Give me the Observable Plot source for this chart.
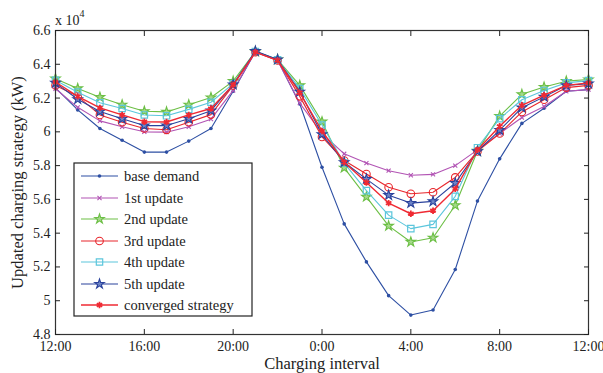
<!DOCTYPE html>
<html><head><meta charset="utf-8">
<script src="https://cdn.jsdelivr.net/npm/d3@7"></script>
<script src="https://cdn.jsdelivr.net/npm/@observablehq/plot@0.6"></script>
<style>
body{margin:0;background:#fff;}
#chart svg{display:block;}
</style></head><body><div id="chart"></div>
<script>
// hours after 12:00 (0 = 12:00, 12 = 0:00, 24 = next 12:00)
const hours = [0,1,2,3,4,5,6,7,8,9,10,11,12,13,14,15,16,17,18,19,20,21,22,23,24];
const tickHours = [0,4,8,12,16,20,24];
const tickLabels = ["12:00","16:00","20:00","0:00","4:00","8:00","12:00"];
const yTicks = [4.8,5,5.2,5.4,5.6,5.8,6,6.2,6.4,6.6];

// values in units of 10^4 kW
const baseDemand = [6.26,6.13,6.02,5.95,5.88,5.88,5.945,6.02,6.24,6.475,6.425,6.165,5.79,5.455,5.23,5.03,4.915,4.945,5.185,5.59,5.84,6.05,6.14,6.24,6.25];
const update1    = [6.255,6.145,6.065,6.03,6.0,5.998,6.03,6.075,6.245,6.475,6.423,6.17,5.99,5.87,5.815,5.77,5.743,5.748,5.8,5.893,5.99,6.085,6.15,6.24,6.25];
const update2    = [6.315,6.257,6.205,6.16,6.122,6.118,6.16,6.203,6.3,6.475,6.428,6.275,6.06,5.787,5.615,5.443,5.348,5.373,5.565,5.887,6.093,6.222,6.265,6.3,6.31];
const update3    = [6.275,6.21,6.1,6.057,6.02,6.012,6.057,6.102,6.275,6.472,6.423,6.21,5.97,5.83,5.75,5.672,5.633,5.642,5.73,5.884,5.99,6.118,6.19,6.262,6.275];
const update4    = [6.305,6.235,6.172,6.138,6.1,6.095,6.133,6.175,6.285,6.476,6.426,6.256,6.04,5.815,5.652,5.507,5.427,5.452,5.618,5.906,6.078,6.19,6.245,6.29,6.303];
const update5    = [6.29,6.193,6.12,6.077,6.037,6.037,6.077,6.125,6.28,6.478,6.428,6.237,5.985,5.82,5.72,5.625,5.578,5.588,5.697,5.884,6.01,6.143,6.207,6.275,6.285];
const converged  = [6.295,6.21,6.142,6.1,6.06,6.058,6.1,6.138,6.278,6.472,6.423,6.232,6.005,5.82,5.7,5.578,5.515,5.533,5.662,5.893,6.033,6.157,6.217,6.275,6.29];

const seriesNames   = ["base demand","1st update","2nd update","3rd update","4th update","5th update","converged strategy"];
const seriesValues  = [baseDemand,update1,update2,update3,update4,update5,converged];
const seriesColors  = ["#2d4fa3","#b254b4","#6cbf45","#e8262c","#5cc6dc","#2a429c","#ef2a33"];
const seriesSymbols = ["circle","times","star","circle","square","star","asterisk"];

const markStyle = [
  {r:1.8, fill:"currentColor", stroke:"none", sw:1.1, lw:1.1},
  {r:2.0, fill:"none", stroke:"currentColor", sw:1.1, lw:1.1},
  {r:3.0, fill:"#a6d98c", stroke:"currentColor", sw:1.1, lw:1.1},
  {r:3.8, fill:"none", stroke:"currentColor", sw:1.1, lw:1.1},
  {r:3.6, fill:"none", stroke:"currentColor", sw:1.2, lw:1.1},
  {r:3.0, fill:"#6f86c8", stroke:"currentColor", sw:1.1, lw:1.1},
  {r:3.0, fill:"none", stroke:"currentColor", sw:1.8, lw:1.4}
];

const marks = [];
seriesNames.forEach((name, s) => {
  const rows = hours.map((h, i) => ({hour: h, value: seriesValues[s][i]}));
  const st = markStyle[s];
  const c = seriesColors[s];
  marks.push(Plot.line(rows, {x: "hour", y: "value", stroke: c, strokeWidth: st.lw}));
  marks.push(Plot.dot(rows, {
    x: "hour", y: "value", symbol: () => seriesSymbols[s], r: st.r,
    fill: st.fill === "currentColor" ? c : st.fill,
    stroke: st.stroke === "currentColor" ? c : st.stroke,
    strokeWidth: st.sw
  }));
});

const fmtX = d => tickLabels[tickHours.indexOf(d)];
const serif = "'Liberation Serif','Times New Roman',serif";

const chart = Plot.plot({
  width: 603, height: 373,
  marginLeft: 55, marginRight: 15, marginTop: 30, marginBottom: 39,
  style: {fontFamily: serif, fontSize: "14px", color: "#222", background: "#fff", overflow: "visible"},
  x: {domain: [0, 24], label: null},
  y: {domain: [4.8, 6.6], label: null},
  symbol: {type: "identity"},
  marks: [
    ...marks,
    Plot.frame({stroke: "#333", strokeWidth: 1.2}),
    Plot.axisX(tickHours, {anchor: "bottom", tickSize: -5, tickPadding: 12, tickFormat: fmtX, label: null, fontSize: 14}),
    Plot.axisX(tickHours, {anchor: "top", tickSize: -5, tickFormat: () => "", label: null}),
    Plot.axisY(yTicks, {anchor: "left", tickSize: -5, tickPadding: 10, tickFormat: d => String(d), label: null, fontSize: 14}),
    Plot.axisY(yTicks, {anchor: "right", tickSize: -5, tickFormat: () => "", label: null}),
    Plot.text(["Charging interval"], {text: d => d, frameAnchor: "bottom", dy: 29, fontSize: 16.5, textAnchor: "middle", lineAnchor: "middle"}),
    Plot.text(["Updated charging strategy (kW)"], {text: d => d, frameAnchor: "left", dx: -38, rotate: -90, fontSize: 16.5, textAnchor: "middle", lineAnchor: "middle"})
  ]
});
document.getElementById("chart").appendChild(chart);

// "x 10^4" exponent label and legend
const svg = d3.select(chart);
const ex = svg.append("text").attr("x", 55).attr("y", 25).attr("fill", "#222")
  .attr("text-anchor", "start").style("font-family", serif).style("font-size", "14px");
ex.append("tspan").text("x 10");
ex.append("tspan").attr("dy", -8).style("font-size", "10px").text("4");

const lg = svg.append("g").attr("text-anchor", "start");
lg.append("rect").attr("x", 74).attr("y", 163).attr("width", 178).attr("height", 153)
  .attr("fill", "#fff").attr("stroke", "#222").attr("stroke-width", 1.2);
const rowY = [176, 198, 219, 241, 262, 284, 305];
const symMap = {circle: d3.symbolCircle, times: d3.symbolTimes, star: d3.symbolStar, square: d3.symbolSquare, asterisk: d3.symbolAsterisk};
seriesNames.forEach((name, s) => {
  const y = rowY[s], c = seriesColors[s], st = markStyle[s];
  lg.append("line").attr("x1", 81).attr("x2", 118).attr("y1", y).attr("y2", y)
    .attr("stroke", c).attr("stroke-width", st.lw);
  lg.append("path").attr("transform", `translate(99.5,${y})`)
    .attr("d", d3.symbol(symMap[seriesSymbols[s]], st.r * st.r * Math.PI)())
    .attr("fill", st.fill === "currentColor" ? c : st.fill)
    .attr("stroke", st.stroke === "currentColor" ? c : st.stroke)
    .attr("stroke-width", st.sw);
  lg.append("text").attr("x", 124).attr("y", y).attr("dy", "0.35em").attr("fill", "#222")
    .attr("text-anchor", "start").style("font-family", serif).style("font-size", "14.5px").text(name);
});
</script></body></html>
